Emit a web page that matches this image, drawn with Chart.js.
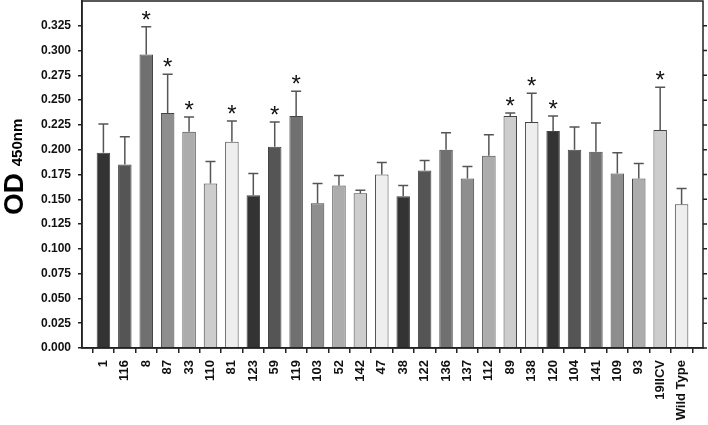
<!DOCTYPE html>
<html>
<head>
<meta charset="utf-8">
<script src="https://cdn.jsdelivr.net/npm/chart.js@4/dist/chart.umd.min.js"></script>
<style>
  html, body { margin: 0; padding: 0; background: #fff; }
  #wrap { width: 708px; height: 425px; }
</style>
</head>
<body>
<div id="wrap"><canvas id="odChart"></canvas></div>
<script>
const strains = ['1', '116', '8', '87', '33', '110', '81', '123', '59', '119', '103', '52', '142', '47',
  '38', '122', '136', '137', '112', '89', '138', '120', '104', '141', '109', '93', '19IICV', 'Wild Type'];
const odMeans = [0.197, 0.185, 0.296, 0.237, 0.218, 0.166, 0.208, 0.154, 0.203, 0.234, 0.146, 0.164, 0.156, 0.175,
  0.153, 0.179, 0.200, 0.171, 0.194, 0.234, 0.228, 0.219, 0.200, 0.198, 0.176, 0.171, 0.220, 0.145];
const odErrors = [0.029, 0.028, 0.028, 0.039, 0.015, 0.022, 0.021, 0.022, 0.025, 0.025, 0.020, 0.010, 0.003, 0.012,
  0.011, 0.010, 0.017, 0.012, 0.021, 0.003, 0.029, 0.015, 0.023, 0.029, 0.021, 0.015, 0.043, 0.016];
const significant = ['8', '87', '33', '81', '59', '119', '89', '138', '120', '19IICV'];
const yTicks = [0.000, 0.025, 0.050, 0.075, 0.100, 0.125, 0.150, 0.175, 0.200, 0.225, 0.250, 0.275, 0.300, 0.325];

const shades = ['#333333', '#555555', '#707070', '#8e8e8e', '#acacac', '#cdcdcd', '#eeeeee'];

// one empty slot on each side, like the original plot
const labels = [''].concat(strains, ['']);
const values = [null].concat(odMeans, [null]);
const errs = [null].concat(odErrors, [null]);
const colors = labels.map((l, i) => shades[(i - 1 + 7) % 7]);

const font = "'Liberation Sans', Arial, sans-serif";

const extras = {
  id: 'extras',
  afterDatasetsDraw(chart) {
    const { ctx, chartArea: a, scales: { x, y } } = chart;
    ctx.save();
    // error bars (upper only)
    ctx.strokeStyle = '#555';
    ctx.lineWidth = 1.5;
    errs.forEach((e, i) => {
      if (e == null) return;
      const px = x.getPixelForValue(i);
      const top = y.getPixelForValue(values[i] + e);
      const base = y.getPixelForValue(values[i]);
      ctx.beginPath();
      ctx.moveTo(px, base);
      ctx.lineTo(px, top);
      ctx.moveTo(px - 5, top);
      ctx.lineTo(px + 5, top);
      ctx.stroke();
      if (significant.includes(labels[i])) {
        ctx.fillStyle = '#111';
        ctx.font = '24px ' + font;
        ctx.textAlign = 'center';
        ctx.textBaseline = 'alphabetic';
        ctx.fillText('*', px, top + 1);
      }
    });
    // frame and right ticks
    ctx.strokeStyle = '#222';
    ctx.lineWidth = 1.5;
    ctx.strokeRect(a.left, a.top, a.right - a.left, a.bottom - a.top);
    ctx.beginPath();
    yTicks.forEach(v => {
      const py = y.getPixelForValue(v);
      ctx.moveTo(a.right, py);
      ctx.lineTo(a.right + 4, py);
    });
    ctx.stroke();
    // axis title with subscript
    ctx.translate(23, 215);
    ctx.rotate(-Math.PI / 2);
    ctx.fillStyle = '#000';
    ctx.textAlign = 'left';
    ctx.textBaseline = 'alphabetic';
    ctx.font = 'bold 28px ' + font;
    ctx.fillText('OD', 0, 0);
    const w = ctx.measureText('OD ').width;
    ctx.font = 'bold 15px ' + font;
    ctx.fillText('450nm', w - 1, -1);
    ctx.restore();
  }
};

new Chart(document.getElementById('odChart'), {
  type: 'bar',
  data: {
    labels: labels,
    datasets: [{
      data: values,
      backgroundColor: colors,
      borderColor: '#444',
      borderWidth: 1,
      barPercentage: 0.63,
      categoryPercentage: 1
    }]
  },
  options: {
    responsive: true,
    maintainAspectRatio: false,
    animation: false,
    layout: { padding: { top: 1, right: 5, left: 0, bottom: 0 } },
    plugins: { legend: { display: false }, tooltip: { enabled: false } },
    scales: {
      x: {
        offset: false,
        grid: { display: true, drawOnChartArea: false, tickLength: 5, color: '#222', lineWidth: 1.5 },
        border: { color: '#222', width: 1.5 },
        afterBuildTicks(s) { s.ticks = s.ticks.filter(t => t.value > 0 && t.value < labels.length - 1); },
        afterFit(s) { s.height = 77; s.paddingLeft = 0; s.paddingRight = 0; },
        ticks: {
          autoSkip: false,
          minRotation: 90,
          maxRotation: 90,
          padding: 7,
          color: '#111',
          font: { family: font, size: 13, weight: 'bold' }
        }
      },
      y: {
        min: 0,
        max: 0.35,
        grid: { display: true, drawOnChartArea: false, tickLength: 4, color: '#222', lineWidth: 1.5 },
        border: { color: '#222', width: 1.5 },
        afterBuildTicks(s) { s.ticks = yTicks.map(v => ({ value: v })); },
        afterFit(s) { s.width = 82; s.paddingTop = 0; s.paddingBottom = 0; },
        ticks: {
          padding: 7,
          color: '#111',
          font: { family: font, size: 12, weight: 'bold' },
          callback: v => Number(v).toFixed(3)
        }
      }
    }
  },
  plugins: [extras]
});
</script>
</body>
</html>
